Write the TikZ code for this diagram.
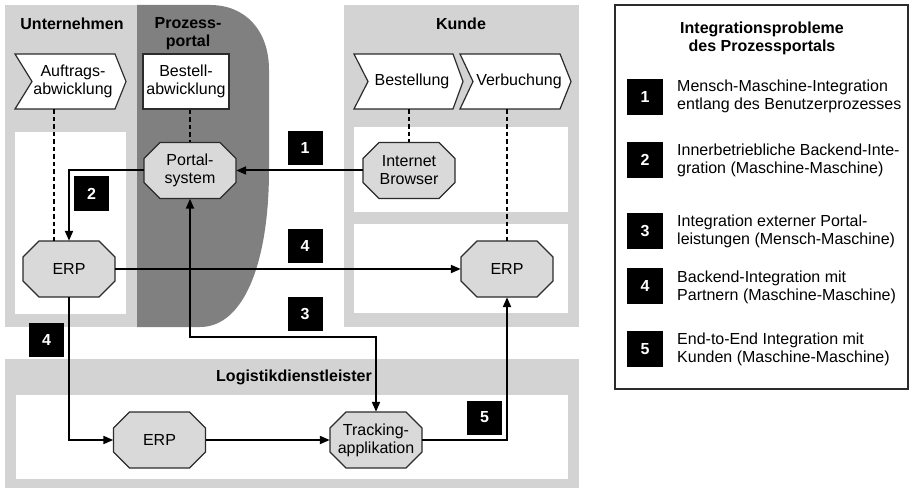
\documentclass[tikz,border=0pt]{standalone}
\usepackage{fontspec}
\setmainfont{Liberation Sans}
\usetikzlibrary{arrows.meta}
\definecolor{panelgray}{HTML}{D3D3D3}
\definecolor{portalgray}{HTML}{808080}
\definecolor{octgray}{HTML}{D9D9D9}
\definecolor{edgegray}{HTML}{2B2B2B}
\tikzset{
 panel/.style={fill=panelgray, draw=none},
 whitebox/.style={fill=white, draw=none},
 title/.style={font=\fontsize{16}{18}\selectfont\bfseries, align=center, inner sep=0pt},
 lbl/.style={font=\fontsize{16}{18}\selectfont, align=center, inner sep=0pt},
 octstyle/.style={fill=octgray, draw=edgegray, line width=1.2pt},
 chevstyle/.style={fill=white, draw=edgegray, line width=1.2pt},
 octnode/.style={lbl, minimum width=92pt, minimum height=56pt},
 chevnode/.style={lbl, minimum height=55pt},
 numbox/.style={fill=black, text=white, font=\fontsize{16}{18}\selectfont\bfseries, minimum width=35pt, minimum height=34pt, inner sep=0pt},
 legbox/.style={numbox, minimum width=36pt, minimum height=36pt},
 arr/.style={line width=2pt, -{Triangle[length=10pt,width=8pt]}},
 arrboth/.style={line width=2pt, {Triangle[length=10pt,width=8pt]}-{Triangle[length=10pt,width=8pt]}},
 dline/.style={line width=1.6pt, dash pattern=on 4.5pt off 3pt},
 legtext/.style={font=\fontsize{16}{18}\selectfont, align=left, anchor=west, inner sep=0pt},
}
\newcommand\octshape[2]{%
 \filldraw[octstyle] (#1-46,#2-12) -- (#1-46,#2+12) -- (#1-30,#2+28) -- (#1+30,#2+28) -- (#1+46,#2+12) -- (#1+46,#2-12) -- (#1+30,#2-28) -- (#1-30,#2-28) -- cycle;}
\begin{document}
\begin{tikzpicture}[x=1pt,y=-1pt]
\useasboundingbox (0,0) rectangle (912,489);
% panels
\fill[panel] (5,5) rectangle (137,327);
\fill[whitebox] (15,132) rectangle (126,314);
\fill[portalgray] (137,5) -- (210,5) .. controls (245,5) and (269,30) .. (269,70) -- (269,170) .. controls (269,260) and (245,327) .. (200,327) -- (137,327) -- cycle;
\fill[panel] (344,5) rectangle (579,327);
\fill[whitebox] (354,127) rectangle (568,212);
\fill[whitebox] (354,224) rectangle (568,313);
\fill[panel] (5,359) rectangle (579,488);
\fill[whitebox] (16,395) rectangle (568,479);
% titles
\node[title] (tU) at (72,24) {Unternehmen};
\node[title] (tP) at (188,33.5) {Prozess-\\portal};
\node[title] (tK) at (461,24) {Kunde};
\node[title] (tL) at (294,377) {Logistikdienstleister};
% process steps
\filldraw[chevstyle] (15,54) -- (115,54) -- (126,81.5) -- (115,109) -- (15,109) -- (32,81.5) -- cycle;
\node[chevnode] (auftrag) at (73,81.5) {Auftrags-\\abwicklung};
\node[lbl, draw=edgegray, line width=1.2pt, fill=white, minimum width=86pt, minimum height=55pt] (bestellab) at (186,81.5) {Bestell-\\abwicklung};
\filldraw[chevstyle] (354,54) -- (453,54) -- (463,81.5) -- (453,109) -- (354,109) -- (368,81.5) -- cycle;
\node[chevnode] (bestell) at (412,81.5) {Bestellung};
\filldraw[chevstyle] (460,54) -- (560,54) -- (571,81.5) -- (560,109) -- (460,109) -- (473,81.5) -- cycle;
\node[chevnode] (verb) at (519,81.5) {Verbuchung};
% systems
\octshape{190}{170.5}
\node[octnode] (portal) at (190,170.5) {Portal-\\system};
\octshape{409}{170.5}
\node[octnode] (browser) at (409,170.5) {Internet\\Browser};
\octshape{69}{269}
\node[octnode] (erpL) at (69,269) {ERP};
\octshape{507}{269}
\node[octnode] (erpR) at (507,269) {ERP};
\octshape{159.5}{440}
\node[octnode] (erpB) at (159.5,440) {ERP};
\octshape{376}{440}
\node[octnode] (track) at (376,440) {Tracking-\\applikation};
% dashed links
\coordinate (dA) at (54,0);
\draw[dline] (auftrag.south -| dA) -- (erpL.north -| dA);
\draw[dline] (bestellab.south -| portal) -- (portal.north);
\draw[dline] (bestell.south -| browser) -- (browser.north);
\draw[dline] (verb.south -| erpR) -- (erpR.north);
% arrows
\draw[arr] (browser.west) -- (portal.east);
\draw[arr] (portal.west) -| (erpL.north);
\draw[arr] (erpL.east) -- (erpR.west);
\coordinate (k3) at (300,337);
\draw[arrboth] (portal.south) |- (k3) -| (track.north);
\draw[arr] (erpL.south) |- (erpB.west);
\draw[arr] (erpB.east) -- (track.west);
\draw[arr] (track.east) -| (erpR.south);
% number boxes
\node[numbox] (n1) at (305,148) {1};
\node[numbox] (n2) at (91.5,193.5) {2};
\node[numbox] (n4a) at (305,245.5) {4};
\node[numbox] (n3) at (305,314) {3};
\node[numbox] (n4b) at (46.5,339.5) {4};
\node[numbox] (n5) at (484.5,417.5) {5};
% legend
\node[draw=edgegray, line width=1.2pt, minimum width=293pt, minimum height=384pt, inner sep=0pt] (leg) at (761.5,197) {};
\node[title] (legt) at (762,38.5) {Integrationsprobleme\\des Prozessportals};
\node[legbox] (l1) at (645,97) {1};
\node[legtext] (l1t) at (677,96) {Mensch-Maschine-Integration\\entlang des Benutzerprozesses};
\node[legbox] (l2) at (645,160) {2};
\node[legtext] (l2t) at (677,160) {Innerbetriebliche Backend-Inte-\\gration (Maschine-Maschine)};
\node[legbox] (l3) at (645,231) {3};
\node[legtext] (l3t) at (677,231) {Integration externer Portal-\\leistungen (Mensch-Maschine)};
\node[legbox] (l4) at (645,286) {4};
\node[legtext] (l4t) at (677,287) {Backend-Integration mit\\Partnern (Maschine-Maschine)};
\node[legbox] (l5) at (645,349) {5};
\node[legtext] (l5t) at (677,349) {End-to-End Integration mit\\Kunden (Maschine-Maschine)};
\end{tikzpicture}
\end{document}
